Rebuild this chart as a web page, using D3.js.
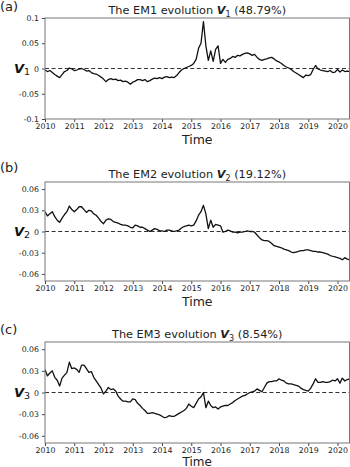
<!DOCTYPE html>
<html><head><meta charset="utf-8">
<script src="https://cdn.jsdelivr.net/npm/d3@7"></script>
<style>body{margin:0;background:#fff}svg{display:block;font-family:"DejaVu Sans",sans-serif}</style>
</head><body><svg id="c" width="350" height="467"></svg>
<script>
// monthly observations, Jan 2010 .. Jun 2020
const startYear = 2010, monthsCount = 126;
const yearTicks = [2010,2011,2012,2013,2014,2015,2016,2017,2018,2019,2020];

const em1 = [-0.003,-0.006,-0.004,-0.008,-0.012,-0.015,-0.018,-0.012,-0.006,-0.004,0.001,-0.001,
 -0.004,-0.003,-0.001,0.000,-0.002,-0.005,-0.004,-0.008,-0.010,-0.011,-0.014,-0.017,
 -0.021,-0.026,-0.022,-0.020,-0.022,-0.021,-0.024,-0.023,-0.026,-0.025,-0.027,-0.031,
 -0.027,-0.025,-0.022,-0.022,-0.024,-0.022,-0.026,-0.024,-0.021,-0.019,-0.020,-0.018,
 -0.020,-0.017,-0.016,-0.018,-0.017,-0.018,-0.014,-0.008,-0.003,0.000,0.002,0.004,
 0.006,0.010,0.018,0.040,0.050,0.093,0.045,0.016,0.035,0.014,0.038,0.045,
 0.010,0.018,0.012,0.018,0.020,0.024,0.022,0.026,0.025,0.028,0.030,0.031,
 0.029,0.026,0.028,0.022,0.018,0.016,0.018,0.019,0.021,0.022,0.019,0.015,
 0.013,0.010,0.006,0.003,0.001,-0.002,-0.006,-0.009,-0.012,-0.015,-0.018,-0.013,
 -0.014,-0.012,-0.002,0.006,-0.001,-0.003,-0.004,-0.005,-0.006,-0.004,-0.008,-0.007,
 -0.002,-0.007,-0.003,-0.006,-0.005,-0.006];

const em2 = [0.028,0.022,0.025,0.028,0.021,0.016,0.013,0.019,0.024,0.028,0.036,0.031,
 0.028,0.031,0.035,0.035,0.031,0.027,0.030,0.029,0.025,0.023,0.019,0.014,
 0.011,0.016,0.018,0.017,0.014,0.013,0.012,0.010,0.009,0.009,0.008,0.006,
 0.005,0.009,0.008,0.006,0.006,0.004,0.002,0.000,0.002,0.004,0.003,0.001,
 0.001,0.000,0.002,0.002,0.001,0.000,0.001,0.002,0.005,0.007,0.008,0.009,
 0.008,0.009,0.015,0.023,0.028,0.037,0.025,0.004,0.016,0.006,0.010,0.009,
 0.008,-0.001,0.000,0.002,0.001,-0.001,-0.001,-0.002,-0.001,-0.001,0.000,0.001,
 0.000,0.000,-0.001,-0.005,-0.009,-0.012,-0.013,-0.013,-0.014,-0.017,-0.020,-0.021,
 -0.022,-0.023,-0.025,-0.026,-0.027,-0.029,-0.030,-0.029,-0.028,-0.027,-0.027,-0.026,
 -0.026,-0.027,-0.028,-0.028,-0.029,-0.029,-0.030,-0.031,-0.032,-0.034,-0.035,-0.036,
 -0.037,-0.038,-0.040,-0.037,-0.039,-0.040];

const em3 = [0.032,0.023,0.027,0.030,0.021,0.017,0.009,0.020,0.024,0.028,0.042,0.033,
 0.034,0.032,0.028,0.038,0.038,0.033,0.028,0.029,0.021,0.016,0.011,0.006,
 -0.002,0.002,0.007,0.004,0.005,0.002,-0.005,-0.009,-0.012,-0.012,-0.013,-0.013,
 -0.009,-0.010,-0.015,-0.018,-0.022,-0.025,-0.029,-0.029,-0.028,-0.029,-0.030,-0.031,
 -0.033,-0.035,-0.034,-0.032,-0.033,-0.033,-0.031,-0.029,-0.027,-0.025,-0.022,-0.016,
 -0.019,-0.021,-0.015,-0.009,-0.006,0.000,-0.021,-0.012,-0.018,-0.021,-0.020,-0.023,
 -0.020,-0.019,-0.018,-0.018,-0.016,-0.014,-0.011,-0.009,-0.007,-0.005,-0.004,-0.002,
 0.000,0.001,0.002,0.005,0.003,0.001,0.007,0.013,0.015,0.015,0.016,0.016,
 0.019,0.017,0.016,0.013,0.012,0.012,0.011,0.010,0.009,0.006,0.004,0.003,
 0.002,0.006,0.012,0.019,0.014,0.014,0.015,0.014,0.014,0.015,0.017,0.016,
 0.019,0.013,0.020,0.016,0.018,0.019];

const panels = [
  {tag:"(a)", name:"EM1", sub:"1", pct:"(48.79%)", values:em1, dom:[-0.1,0.1], ticks:[-0.1,-0.05,0,0.05,0.1], labels:["-0.1","-0.05","0","0.05","0.1"], top:18, bottom:119, timeY:144, timeSize:12.5, tagY:11},
  {tag:"(b)", name:"EM2", sub:"2", pct:"(19.12%)", values:em2, dom:[-0.07,0.07], ticks:[-0.06,-0.03,0,0.03,0.06], labels:["-0.06","-0.03","0","0.03","0.06"], top:182, bottom:281, timeY:306, timeSize:12.5, tagY:172},
  {tag:"(c)", name:"EM3", sub:"3", pct:"(8.54%)", values:em3, dom:[-0.07,0.07], ticks:[-0.06,-0.03,0,0.03,0.06], labels:["-0.06","-0.03","0","0.03","0.06"], top:342, bottom:443, timeY:465.5, timeSize:12, tagY:334}
];

const months = d3.range(monthsCount).map(i => startYear + i/12);
const svg = d3.select("#c");
const L = 45, R = 349.5;
const x = d3.scaleLinear().domain([2010, 2020.41]).range([L, R]);

panels.forEach((p, k) => {
  const y = d3.scaleLinear().domain(p.dom).range([p.bottom, p.top]);
  const g = svg.append("g");
  const cid = "clip" + k;
  svg.append("clipPath").attr("id", cid).append("rect")
    .attr("x", L).attr("y", p.top).attr("width", R - L).attr("height", p.bottom - p.top);

  const xa = g.append("g").attr("transform", `translate(0,${p.bottom})`)
    .call(d3.axisBottom(x).tickValues(yearTicks).tickFormat(d3.format("d")).tickSize(3).tickPadding(1.5));
  xa.select(".domain").remove();
  xa.selectAll("line").attr("stroke", "#444");
  xa.selectAll("text").attr("font-size", 7.8).attr("fill", "#222").attr("font-family", "DejaVu Sans");

  const ya = g.append("g").attr("transform", `translate(${L},0)`)
    .call(d3.axisLeft(y).tickValues(p.ticks).tickFormat((d, i) => p.labels[i]).tickSize(3).tickPadding(3));
  ya.select(".domain").remove();
  ya.selectAll("line").attr("stroke", "#444");
  ya.selectAll("text").attr("font-size", 7.8).attr("fill", "#222").attr("font-family", "DejaVu Sans");

  g.append("line").attr("x1", L).attr("x2", R).attr("y1", y(0)).attr("y2", y(0))
    .attr("stroke", "#333").attr("stroke-width", 1.2).attr("stroke-dasharray", "4,2.6");

  const line = d3.line().x((d, i) => x(months[i])).y(d => y(d));
  g.append("path").datum(p.values).attr("clip-path", `url(#${cid})`)
    .attr("d", line).attr("fill", "none").attr("stroke", "#111").attr("stroke-width", 1.3)
    .attr("stroke-linejoin", "round");

  g.append("rect").attr("x", L).attr("y", p.top).attr("width", R - L).attr("height", p.bottom - p.top)
    .attr("fill", "none").attr("stroke", "#777").attr("stroke-width", 1);

  const cx = (L + R) / 2;
  const t = g.append("text").attr("x", cx).attr("y", p.top - 4).attr("text-anchor", "middle")
    .attr("font-size", 11.3).attr("fill", "#222");
  t.append("tspan").text(`The ${p.name} evolution `);
  t.append("tspan").attr("font-weight", "bold").attr("font-style", "italic").text("V");
  t.append("tspan").attr("font-size", 8).attr("dy", 2.5).text(p.sub);
  t.append("tspan").attr("dy", -2.5).text(" " + p.pct);

  g.append("text").attr("x", 0).attr("y", p.tagY).attr("font-size", 13).attr("fill", "#222").text(p.tag);

  const yl = g.append("text").attr("x", 14).attr("y", y(0) + 4).attr("font-size", 13).attr("fill", "#111");
  yl.append("tspan").attr("font-weight", "bold").attr("font-style", "italic").text("V");
  yl.append("tspan").attr("font-size", 9.5).attr("dy", 2.5).text(p.sub);

  g.append("text").attr("x", cx).attr("y", p.timeY).attr("text-anchor", "middle")
    .attr("font-size", p.timeSize).attr("fill", "#222").text("Time");
});
</script></body></html>
